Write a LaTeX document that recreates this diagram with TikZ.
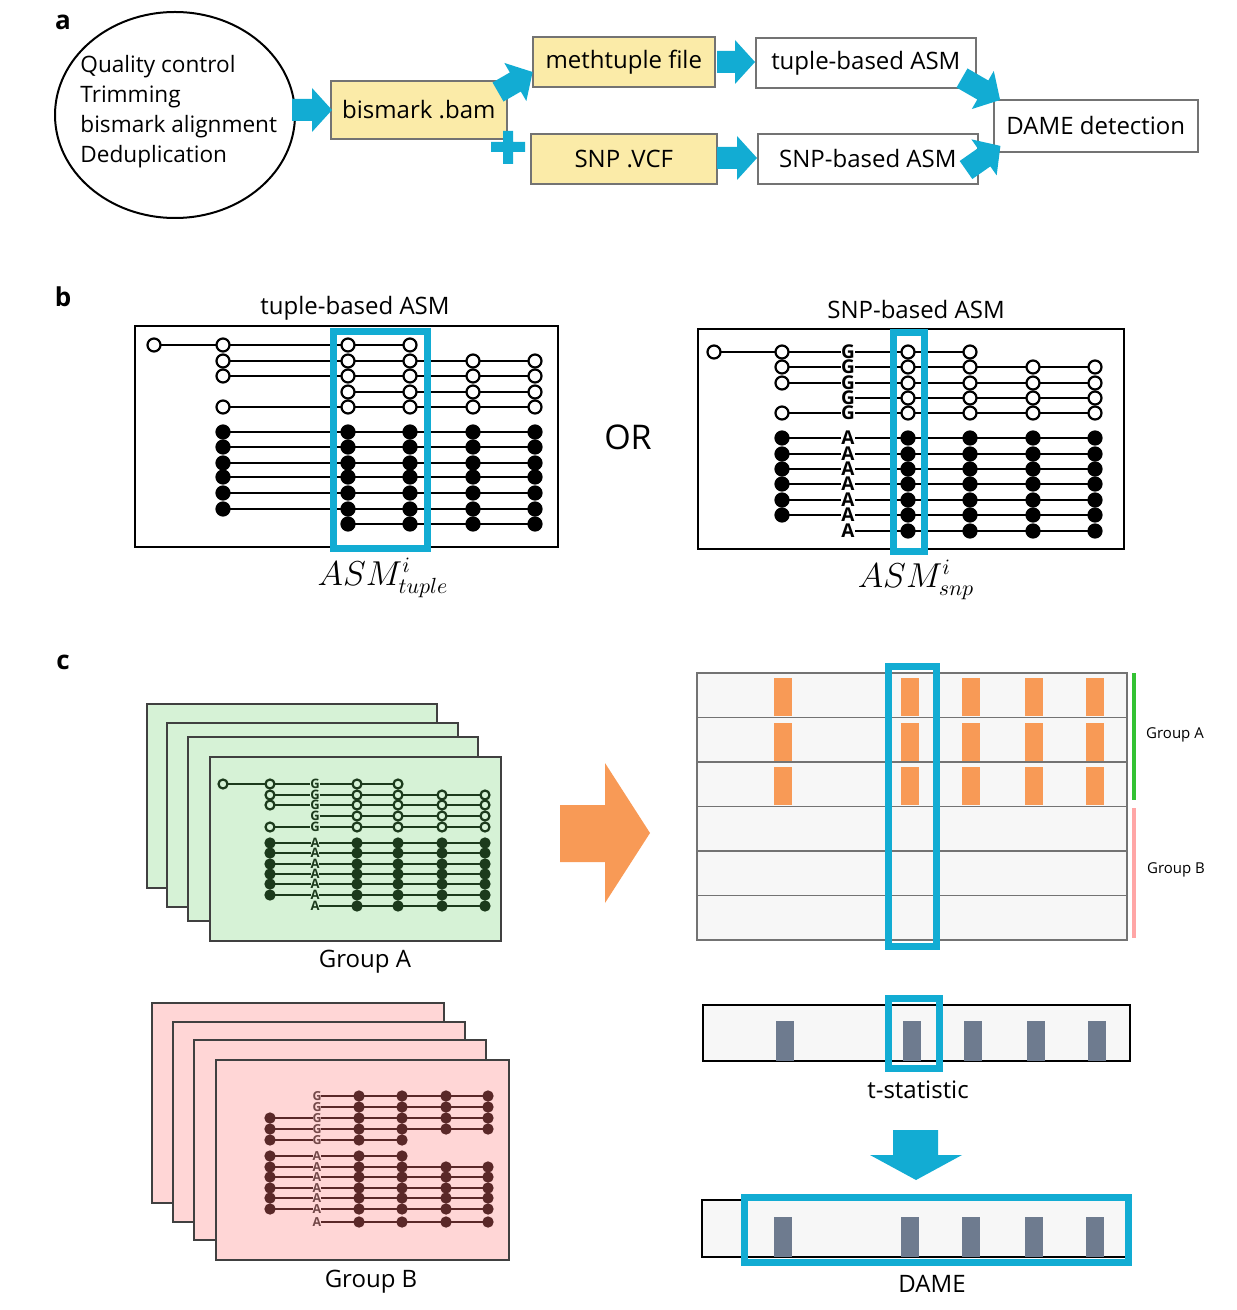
\documentclass[tikz,border=0pt]{standalone}
\usepackage{fontspec}
\setmainfont{Open Sans}
\begin{document}
\definecolor{bl}{HTML}{12ACD3}
\definecolor{yel}{HTML}{FBEBA8}
\definecolor{gfill}{HTML}{D6F2D6}
\definecolor{pfill}{HTML}{FFD6D6}
\definecolor{gdark}{HTML}{1C3A1C}
\definecolor{pdark}{HTML}{5A2828}
\definecolor{orng}{HTML}{F89A56}
\definecolor{gbar}{HTML}{6E7B8F}
\definecolor{gridf}{HTML}{F7F7F7}
\newcommand\barr[4]{\fill[bl,shift={(#1,#2)},rotate=#3] (0,-11)--(#4-20,-11)--(#4-20,-22)--(#4,0)--(#4-20,22)--(#4-20,11)--(0,11)--cycle;}
% row: y, xstart, xend, circles, circle style, line colour, radius
\newcommand\rrow[7]{\draw[#6,line width=1.3] (#2,#1)--(#3,#1);
  \foreach \xx in {#4}{\draw[#5,line width=1.1] (\xx,#1) circle[radius=#7];}}
\begin{tikzpicture}[x=0.5pt,y=-0.5pt,
  box/.style={draw=black!55,line width=0.8,minimum height=26pt,anchor=north west},
  lab/.style={font=\fontsize{12}{14}\selectfont},
  plet/.style={font=\bfseries\fontsize{13}{15}\selectfont}]
\useasboundingbox (0,0) rectangle (1236,1310);
% ---------- panel a
\node[plet] (pa) at (63,22) {a};
\draw[line width=1] (175,115) ellipse[x radius=120,y radius=103];
\node[align=left,anchor=west,font=\fontsize{11.3}{15}\selectfont,inner sep=0pt] (qc) at (80,112) {Quality control\\Trimming\\bismark alignment\\Deduplication};
\node[box,fill=yel,minimum width=88pt,minimum height=29pt,lab] (bam) at (330,80) {bismark .bam};
\node[box,fill=yel,minimum width=91pt,minimum height=25pt,lab] (meth) at (532,36) {methtuple file};
\node[box,fill=yel,minimum width=93pt,minimum height=25pt,lab] (vcf) at (530,133) {SNP .VCF};
\node[box,fill=white,minimum width=110pt,minimum height=25pt,lab] (tup) at (755,37) {tuple-based ASM};
\node[box,fill=white,minimum width=110pt,minimum height=25pt,lab] (snpb) at (757,133) {SNP-based ASM};
\node[box,fill=white,minimum width=102pt,minimum height=26pt,lab] (dame) at (993,99) {DAME detection};
\barr{292}{110}{0}{40}
\barr{717}{62}{0}{38}
\barr{717}{158}{0}{40}
\barr{498}{92}{30}{40}
\barr{962}{78}{-30}{44}
\barr{966}{170}{35}{42}
\fill[bl] (503,131) rectangle (513,164) (491,142) rectangle (525,152);
% ---------- panel b
\node[plet] (pb) at (63,297) {b};
\node[lab] (tl) at (355,308) {tuple-based ASM};
\node[lab] (sl) at (916,310) {SNP-based ASM};
\draw[line width=1.2] (135,326) rectangle (558,547);
\draw[line width=1.2] (698,329) rectangle (1124,549);
\tikzset{op/.style={draw=black,fill=white},fl/.style={draw=black,fill=black}}
% left
\rrow{345}{154}{410}{154,223,348,410}{op}{black}{6.5}
\foreach \y in {361,376,407}{\rrow{\y}{223}{535}{223,348,410,473,535}{op}{black}{6.5}}
\rrow{392}{348}{535}{348,410,473,535}{op}{black}{6.5}
\foreach \y in {432,447,463,477,493,509}{\rrow{\y}{223}{535}{223,348,410,473,535}{fl}{black}{6.5}}
\rrow{524}{348}{535}{348,410,473,535}{fl}{black}{6.5}
\draw[bl,line width=3.5] (333,332) rectangle (427,548);
% right
\rrow{352}{714}{970}{714,782,908,970}{op}{black}{6.5}
\foreach \y in {367,383,413}{\rrow{\y}{782}{1095}{782,908,970,1033,1095}{op}{black}{6.5}}
\rrow{398}{848}{1095}{908,970,1033,1095}{op}{black}{6.5}
\foreach \y in {438,454,469,484,500,515}{\rrow{\y}{782}{1095}{782,908,970,1033,1095}{fl}{black}{6.5}}
\rrow{531}{848}{1095}{908,970,1033,1095}{fl}{black}{6.5}
\tikzset{bletter/.style={font=\bfseries\fontsize{9.5}{9}\selectfont,fill=white,inner sep=0pt}}
\foreach \y in {352,367,383,398,413}{\node[bletter] at (848,\y) {G};}
\foreach \y in {438,454,469,484,500,515,531}{\node[bletter] at (848,\y) {A};}
\draw[bl,line width=3.5] (893,333) rectangle (924,551);
\node[font=\fontsize{17}{20}\selectfont] (or) at (628,437) {OR};
\node[font=\fontsize{16}{18}\selectfont,inner sep=0pt] (m1) at (383,578) {$ASM^i_{tuple}$};
\node[font=\fontsize{16}{18}\selectfont,inner sep=0pt] (m2) at (916,580) {$ASM^i_{snp}$};
% ---------- panel c
\node[plet] (pc) at (63,662) {c};
\tikzset{card/.style={draw=black!75,line width=1,fill=gfill},pcard/.style={draw=black!75,line width=1,fill=pfill}}
\draw[card] (147,704) rectangle (437,888);
\draw[card] (167,723) rectangle (458,907);
\draw[card] (188,737) rectangle (478,921);
\draw[card] (210,757) rectangle (501,941);
\tikzset{gop/.style={draw=gdark,fill=gfill},gfl/.style={draw=gdark,fill=gdark}}
\rrow{784}{223}{398}{223,270,357,398}{gop}{gdark}{4.5}
\foreach \y in {795,805,827}{\rrow{\y}{270}{485}{270,357,398,442,485}{gop}{gdark}{4.5}}
\rrow{816}{315}{485}{357,398,442,485}{gop}{gdark}{4.5}
\foreach \y in {843,853,864,874,884,895}{\rrow{\y}{270}{485}{270,357,398,442,485}{gfl}{gdark}{4.5}}
\rrow{906}{315}{485}{357,398,442,485}{gfl}{gdark}{4.5}
\tikzset{gletter/.style={font=\bfseries\fontsize{6.5}{6}\selectfont,text=gdark,fill=gfill,inner sep=0pt}}
\foreach \y in {784,795,805,816,827}{\node[gletter] at (315,\y) {G};}
\foreach \y in {843,853,864,874,884,895,906}{\node[gletter] at (315,\y) {A};}
\node[lab] (ga) at (365,962) {Group A};
\draw[pcard] (152,1003) rectangle (444,1203);
\draw[pcard] (173,1022) rectangle (465,1222);
\draw[pcard] (194,1040) rectangle (486,1240);
\draw[pcard] (216,1060) rectangle (509,1260);
\tikzset{pfl/.style={draw=pdark,fill=pdark}}
\foreach \y in {1096,1107}{\rrow{\y}{317}{488}{359,402,446,488}{pfl}{pdark}{4.5}}
\foreach \y in {1118,1129}{\rrow{\y}{270}{488}{270,359,402,446,488}{pfl}{pdark}{4.5}}
\foreach \y in {1140,1156}{\rrow{\y}{270}{402}{270,359,402}{pfl}{pdark}{4.5}}
\foreach \y in {1167,1177,1188,1198,1209}{\rrow{\y}{270}{488}{270,359,402,446,488}{pfl}{pdark}{4.5}}
\rrow{1222}{317}{488}{359,402,446,488}{pfl}{pdark}{4.5}
\tikzset{pletter/.style={font=\bfseries\fontsize{6.2}{6}\selectfont,text=pdark!85,fill=pfill,inner sep=0pt}}
\foreach \y in {1096,1107,1118,1129,1140}{\node[pletter] at (317,\y) {G};}
\foreach \y in {1156,1167,1177,1188,1198,1209,1222}{\node[pletter] at (317,\y) {A};}
\node[lab] (gb) at (371,1282) {Group B};
% big orange arrow
\fill[orng] (560,805)--(605,805)--(605,763)--(650,833)--(605,903)--(605,862)--(560,862)--cycle;
% grid
\draw[black!55,fill=gridf,line width=0.8] (697,673) rectangle (1127,940);
\foreach \i in {1,...,5}{\draw[black!55,line width=0.8] (697,673+44.5*\i)--(1127,673+44.5*\i);}
\foreach \x in {783,910,971,1034,1095}{\foreach \i in {0,1,2}{\fill[orng] (\x-9,678+44.5*\i) rectangle (\x+9,716+44.5*\i);}}
\draw[bl,line width=3.5] (888,666) rectangle (936,946);
\draw[green!70!black!80,line width=2] (1134,673)--(1134,800);
\draw[red!35,line width=2] (1134,808)--(1134,938);
\node[font=\fontsize{7.5}{8}\selectfont] (lga) at (1175,735) {Group A};
\node[font=\fontsize{7.5}{8}\selectfont] (lgb) at (1176,870) {Group B};
% t-statistic
\draw[black,fill=gridf,line width=1] (703,1005) rectangle (1130,1061);
\foreach \x in {785,912,973,1036,1097}{\fill[gbar] (\x-9,1021) rectangle (\x+9,1061);}
\draw[bl,line width=3.5] (888,998) rectangle (939,1068);
\node[lab] (ts) at (918,1090) {t-statistic};
\fill[bl] (893,1130)--(938,1130)--(938,1155)--(962,1155)--(916,1180)--(870,1155)--(893,1155)--cycle;
% DAME
\draw[black,fill=gridf,line width=1] (702,1200) rectangle (1128,1257);
\foreach \x in {783,910,971,1034,1095}{\fill[gbar] (\x-9,1217) rectangle (\x+9,1257);}
\draw[bl,line width=3.5] (744,1197) rectangle (1128,1262);
\node[lab] (dm) at (932,1284) {DAME};
\end{tikzpicture}
\end{document}
